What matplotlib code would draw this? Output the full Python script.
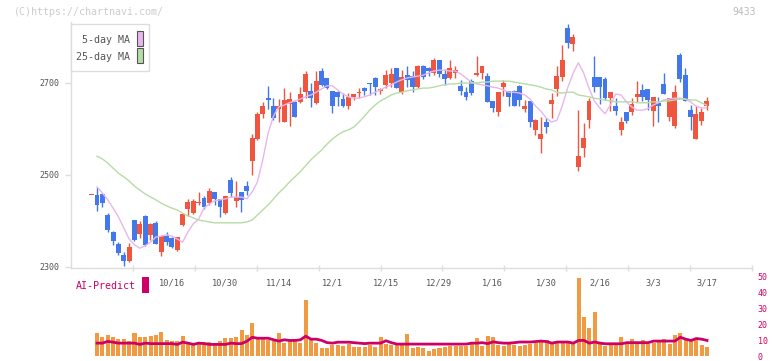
import matplotlib
matplotlib.use("Agg")
import matplotlib.pyplot as plt
from matplotlib.patches import Rectangle
import numpy as np

# OHLC per trading day (first visible candle ... 3/17)
opens = [2456, 2456, 2459, 2413, 2375, 2350, 2326, 2312, 2402, 2372,
         2411, 2370, 2396, 2333, 2367, 2362, 2337, 2391, 2425, 2418,
         2439, 2451, 2440, 2462, 2447, 2418, 2489, 2444, 2462, 2475,
         2531, 2578, 2633, 2667, 2650, 2643, 2616, 2654, 2659, 2659,
         2681, 2683, 2657, 2727, 2710, 2683, 2681, 2665, 2649, 2669,
         2678, 2690, 2700, 2710, 2683, 2696, 2701, 2732, 2681, 2717,
         2715, 2692, 2737, 2732, 2721, 2750, 2720, 2710, 2721, 2694,
         2681, 2705, 2718, 2721, 2715, 2661, 2638, 2692, 2683, 2683,
         2694, 2644, 2661, 2598, 2578, 2616, 2654, 2686, 2714, 2819,
         2784, 2518, 2559, 2620, 2712, 2714, 2709, 2668, 2650, 2598,
         2636, 2638, 2670, 2685, 2687, 2640, 2657, 2697, 2627, 2607,
         2761, 2717, 2641, 2578, 2617, 2651]
highs = [2457, 2474, 2461, 2417, 2378, 2355, 2333, 2352, 2402, 2399,
         2413, 2395, 2400, 2370, 2376, 2366, 2366, 2418, 2447, 2447,
         2462, 2455, 2471, 2464, 2447, 2455, 2495, 2486, 2462, 2486,
         2589, 2636, 2659, 2694, 2667, 2665, 2689, 2681, 2661, 2691,
         2727, 2701, 2725, 2732, 2710, 2683, 2683, 2679, 2679, 2676,
         2689, 2692, 2700, 2714, 2690, 2728, 2732, 2732, 2728, 2736,
         2725, 2739, 2739, 2734, 2754, 2750, 2730, 2750, 2737, 2707,
         2692, 2708, 2759, 2737, 2721, 2661, 2681, 2707, 2683, 2685,
         2696, 2663, 2661, 2621, 2625, 2623, 2679, 2736, 2783, 2828,
         2806, 2641, 2612, 2667, 2759, 2714, 2712, 2680, 2667, 2627,
         2638, 2667, 2704, 2697, 2687, 2670, 2670, 2721, 2667, 2696,
         2765, 2733, 2652, 2651, 2646, 2670]
lows = [2456, 2422, 2431, 2375, 2348, 2326, 2302, 2311, 2356, 2362,
        2346, 2358, 2350, 2324, 2348, 2341, 2335, 2389, 2411, 2416,
        2435, 2426, 2435, 2435, 2408, 2416, 2452, 2431, 2420, 2457,
        2500, 2575, 2623, 2643, 2620, 2616, 2616, 2607, 2625, 2656,
        2667, 2647, 2654, 2694, 2686, 2634, 2649, 2647, 2643, 2662,
        2667, 2674, 2674, 2674, 2675, 2689, 2692, 2690, 2676, 2692,
        2681, 2689, 2708, 2715, 2717, 2712, 2696, 2708, 2710, 2674,
        2663, 2674, 2715, 2708, 2659, 2636, 2628, 2672, 2650, 2649,
        2650, 2638, 2605, 2587, 2547, 2592, 2623, 2672, 2705, 2777,
        2770, 2509, 2540, 2603, 2680, 2654, 2663, 2639, 2630, 2586,
        2612, 2630, 2659, 2661, 2641, 2607, 2615, 2675, 2617, 2603,
        2703, 2661, 2598, 2578, 2609, 2641]
closes = [2457, 2435, 2440, 2380, 2357, 2331, 2312, 2343, 2359, 2394,
          2348, 2394, 2350, 2368, 2355, 2344, 2365, 2415, 2442, 2444,
          2442, 2431, 2466, 2447, 2431, 2455, 2460, 2453, 2446, 2466,
          2580, 2633, 2650, 2663, 2623, 2650, 2662, 2665, 2627, 2676,
          2720, 2667, 2705, 2696, 2689, 2649, 2670, 2650, 2669, 2676,
          2681, 2683, 2698, 2692, 2686, 2717, 2720, 2690, 2712, 2707,
          2692, 2736, 2714, 2725, 2750, 2719, 2708, 2732, 2728, 2683,
          2669, 2679, 2721, 2737, 2659, 2645, 2681, 2701, 2669, 2649,
          2663, 2650, 2616, 2620, 2589, 2604, 2663, 2715, 2750, 2786,
          2801, 2541, 2581, 2661, 2692, 2692, 2668, 2680, 2640, 2616,
          2617, 2654, 2676, 2670, 2663, 2670, 2649, 2675, 2667, 2680,
          2708, 2661, 2625, 2633, 2636, 2661]

# moving averages as drawn (from 2nd candle on)
ma5 = [2474, 2461, 2446, 2428, 2409, 2385, 2361, 2348, 2341, 2346,
       2354, 2365, 2367, 2370, 2367, 2361, 2354, 2376, 2394, 2404,
       2428, 2437, 2444, 2446, 2448, 2452, 2452, 2452, 2448, 2463,
       2485, 2533, 2591, 2628, 2648, 2652, 2657, 2661, 2665, 2670,
       2674, 2680, 2687, 2694, 2694, 2685, 2676, 2670, 2667, 2667,
       2670, 2674, 2680, 2685, 2691, 2696, 2702, 2707, 2711, 2713,
       2715, 2717, 2722, 2726, 2728, 2728, 2726, 2726, 2720, 2711,
       2702, 2698, 2696, 2694, 2691, 2689, 2685, 2680, 2680, 2678,
       2674, 2665, 2650, 2639, 2624, 2615, 2619, 2650, 2689, 2720,
       2744, 2722, 2689, 2661, 2646, 2633, 2652, 2676, 2674, 2659,
       2648, 2641, 2641, 2644, 2652, 2657, 2663, 2665, 2667, 2667,
       2665, 2659, 2650, 2646, 2646]
ma25 = [2541, 2535, 2526, 2515, 2504, 2496, 2487, 2476, 2467, 2459,
        2452, 2446, 2439, 2433, 2428, 2424, 2417, 2411, 2407, 2402,
        2400, 2398, 2396, 2396, 2396, 2396, 2396, 2396, 2398, 2402,
        2413, 2424, 2435, 2448, 2461, 2472, 2485, 2496, 2507, 2520,
        2533, 2544, 2554, 2567, 2578, 2587, 2594, 2598, 2604, 2615,
        2628, 2641, 2652, 2661, 2667, 2674, 2678, 2680, 2683, 2685,
        2687, 2689, 2689, 2691, 2694, 2696, 2698, 2698, 2700, 2700,
        2700, 2700, 2702, 2702, 2704, 2704, 2704, 2704, 2702, 2700,
        2698, 2696, 2694, 2691, 2687, 2685, 2680, 2678, 2680, 2680,
        2674, 2672, 2670, 2667, 2665, 2663, 2661, 2659, 2659, 2659,
        2659, 2657, 2657, 2657, 2659, 2659, 2661, 2661, 2663, 2665,
        2665, 2663, 2663, 2657, 2652]

# AI-Predict panel (from 2nd candle on)
ai_bars = [14.6, 12, 13.3, 12, 10.8, 10.8, 9.4, 14.6, 12, 12,
           12.9, 13.3, 15.2, 10.2, 9.6, 9.4, 12.7, 8.9, 8.3, 8.9,
           8.9, 8.9, 7.3, 9.6, 11.4, 11.4, 12, 16.6, 13.3, 20.8,
           11.4, 11.4, 10, 9.4, 14.6, 8.3, 10, 10.8, 8.6, 35.4,
           11.4, 8.3, 5.2, 5.2, 7.3, 7.3, 6.2, 7.9, 5.8, 5.8,
           5.8, 7.3, 5.8, 12, 7.9, 7.3, 7.3, 7.3, 13.9, 5.2,
           5.8, 5.2, 3.1, 4.6, 5.2, 5.8, 6.6, 6.6, 6.6, 6.6,
           7.9, 11.4, 6.6, 12.7, 12, 7.3, 6.6, 7.5, 7.3, 6.6,
           7.3, 7.9, 8.3, 10, 10, 8.3, 9.4, 8.9, 9.4, 8.3,
           49.6, 24.6, 17.7, 28.1, 8.3, 6.6, 7.3, 7.9, 12, 8.3,
           10.8, 8.3, 10.4, 7.9, 8.3, 10, 10.8, 7.7, 13.3, 14.4,
           10.4, 9.4, 10, 7.3, 5.8]
ai_line = [8.3, 8.3, 9.4, 8.9, 8.3, 8.3, 8.3, 8.3, 7.5, 8.3,
           8.0, 8.0, 8.0, 8.0, 8.0, 7.5, 8.9, 8.3, 7.5, 8.3,
           8.0, 7.5, 7.5, 7.5, 7.5, 8.3, 8.0, 8.0, 9.5, 12.0,
           11.4, 11.4, 11.4, 10.4, 9.6, 10.4, 10, 10, 10.4, 12.7,
           10.8, 10.8, 10, 8.6, 8.3, 8.9, 8.9, 8.9, 8.6, 8.3,
           8.0, 8.3, 8.3, 8.3, 9.8, 8.6, 7.7, 7.7, 7.7, 7.7,
           7.7, 7.7, 7.7, 7.7, 7.7, 7.7, 7.7, 7.7, 7.7, 7.7,
           8.3, 8.3, 8.6, 8.0, 9.1, 8.6, 8.3, 8.3, 8.6, 9.0,
           9.0, 9.0, 9.3, 9.6, 9.3, 8.3, 9.0, 9.0, 9.0, 8.3,
           10, 10, 8.3, 9.0, 8.3, 7.9, 7.9, 7.9, 7.9, 8.6,
           8.6, 8.6, 8.6, 8.6, 9.6, 9.6, 9.6, 9.6, 9.6, 12,
           10.8, 10, 11.2, 10.8, 10]

date_labels = ['10/16', '10/30', '11/14', '12/1', '12/15', '12/29',
               '1/16', '1/30', '2/16', '3/3', '3/17']
date_idx = [15, 25, 35, 45, 55, 65, 75, 85, 95, 105, 115]
price_ticks = [2300, 2500, 2700]
ai_ticks = [0, 10, 20, 30, 40, 50]

W, H = 772, 361
RED = '#f0553f'
BLUE = '#4378ec'
CRIMSON = '#cc0066'
MONO = 'DejaVu Sans Mono'


def rect(l, t, r, b):
    return [l / W, 1 - b / H, (r - l) / W, (b - t) / H]


fig = plt.figure(figsize=(W / 100, H / 100), dpi=100)
ax2 = fig.add_axes(rect(70.5, 277, 752, 356.3))
ax = fig.add_axes(rect(70.5, 22, 752, 267.5))
ax2.patch.set_alpha(0)
ax.patch.set_alpha(0)

o = np.array(opens)
h = np.array(highs)
l = np.array(lows)
c = np.array(closes)
x = np.arange(len(o))
up = c >= o
cols = np.where(up, RED, BLUE)

# candles
ax.vlines(x, l, h, colors=cols, linewidth=1)
body_lo = np.minimum(o, c)
body_h = np.maximum(np.abs(c - o), 1.6)
ax.bar(x, body_h, bottom=body_lo, width=0.92, color=cols, linewidth=0)

# moving averages
ax.plot(x[1:], ma5, color='#e8b6ec', linewidth=1)
ax.plot(x[1:], ma25, color='#b6dca6', linewidth=1)

xlim = (-3.96, 123.4)
ax.set_xlim(*xlim)
ax.set_ylim(2298.9, 2832.6)
for s in ['top', 'right']:
    ax.spines[s].set_visible(False)
for s in ['left', 'bottom']:
    ax.spines[s].set_color('#dddddd')
    ax.spines[s].set_linewidth(1)

ax.set_yticks(price_ticks)
ax.set_yticklabels([str(v) for v in price_ticks], fontsize=6, family=MONO, color='#555555')
ax.tick_params(axis='y', length=4, width=1, color='#dddddd', pad=4)

ax.set_xticks(date_idx)
ax.set_xticklabels(date_labels, fontsize=6.2, family=MONO, color='#555555')
ax.tick_params(axis='x', which='major', length=0, pad=8)
ax.set_xticks(np.arange(7.71, 124, 11.578), minor=True)
ax.tick_params(axis='x', which='minor', direction='inout', length=5, width=1, color='#dddddd')

# AI-Predict panel
xb = x[1:]
ax2.bar(xb, ai_bars, width=0.75, color='#f29a42', linewidth=0)
ax2.plot(xb, ai_line, color=CRIMSON, linewidth=2)
ax2.set_xlim(*xlim)
ax2.set_ylim(0, 50)
for s in ax2.spines.values():
    s.set_visible(False)
ax2.set_xticks([])
ax2.yaxis.tick_right()
ax2.set_yticks(ai_ticks)
ax2.set_yticklabels([str(v) for v in ai_ticks], fontsize=6, family=MONO, color=CRIMSON)
ax2.tick_params(axis='y', length=0, pad=4)

# texts and legend
fig.text(14 / W, 1 - 12 / H, '(C)https://chartnavi.com/', fontsize=7.2, family=MONO,
         color='#cccccc', va='center', ha='left')
fig.text(756 / W, 1 - 12 / H, '9433', fontsize=7, family=MONO,
         color='#bbbbbb', va='center', ha='right')

fig.patches.append(Rectangle((70.5 / W, 1 - 71 / H), 78 / W, 47 / H, transform=fig.transFigure,
                             facecolor='white', edgecolor='#dddddd', linewidth=1, zorder=5))
fig.text(130 / W, 1 - 40 / H, '5-day MA', fontsize=7.2, family=MONO, color='#555555',
         va='center', ha='right', zorder=6)
fig.text(130 / W, 1 - 57 / H, '25-day MA', fontsize=7.2, family=MONO, color='#555555',
         va='center', ha='right', zorder=6)
fig.patches.append(Rectangle((136.5 / W, 1 - 46 / H), 6 / W, 15 / H, transform=fig.transFigure,
                             facecolor='#e8b6ec', edgecolor='#555555', linewidth=0.8, zorder=6))
fig.patches.append(Rectangle((136.5 / W, 1 - 63 / H), 6 / W, 15 / H, transform=fig.transFigure,
                             facecolor='#b6dca6', edgecolor='#555555', linewidth=0.8, zorder=6))

fig.text(76 / W, 1 - 286 / H, 'AI-Predict', fontsize=7.2, family=MONO, color=CRIMSON,
         va='center', ha='left')
fig.patches.append(Rectangle((142 / W, 1 - 293 / H), 7 / W, 16 / H, transform=fig.transFigure,
                             facecolor=CRIMSON, edgecolor='none'))

fig.savefig('out.png', dpi=100)
